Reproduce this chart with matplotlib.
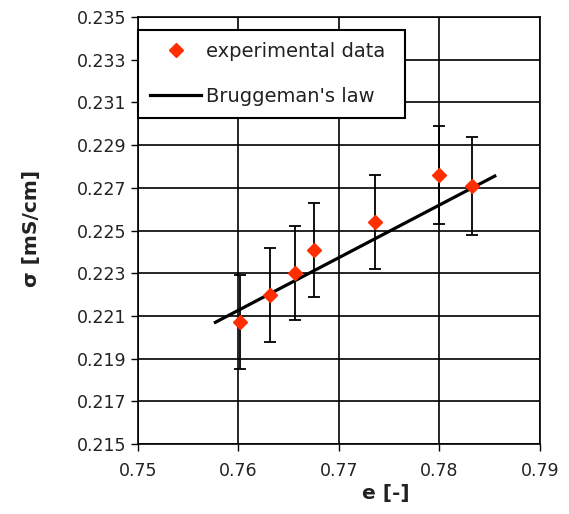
import matplotlib
matplotlib.use("Agg")
import matplotlib.pyplot as plt
from matplotlib.lines import Line2D

# Data
porosity = [0.7601, 0.7631, 0.7656, 0.7675, 0.7736, 0.7800, 0.7832]
sigma = [0.2207, 0.2220, 0.2230, 0.2241, 0.2254, 0.2276, 0.2271]
sigma_err = [0.0022, 0.0022, 0.0022, 0.0022, 0.0022, 0.0023, 0.0023]
brug_x = [0.7577, 0.7855]
brug_y = [0.2207, 0.22755]
xticks = [0.75, 0.76, 0.77, 0.78, 0.79]
yticks = [0.215, 0.217, 0.219, 0.221, 0.223, 0.225, 0.227, 0.229, 0.231, 0.233, 0.235]

text_color = '#222222'

fig = plt.figure(figsize=(5.69, 5.14), dpi=100)
ax = fig.add_axes([138/569, 70/514, 402/569, 427/514])

ax.set_xlim(0.75, 0.79)
ax.set_ylim(0.215, 0.235)
ax.set_xticks(xticks)
ax.set_yticks(yticks)
ax.set_xticklabels([f"{v:.2f}" for v in xticks])
ax.set_yticklabels([f"{v:.3f}" for v in yticks])
ax.tick_params(axis='both', direction='out', length=5, width=1, labelsize=12.5,
               color='black', labelcolor=text_color)
ax.tick_params(axis='x', pad=8)
ax.grid(True, color='black', linewidth=1.2)
ax.set_axisbelow(True)
for s in ax.spines.values():
    s.set_linewidth(1.2)
    s.set_color('black')

ax.plot(brug_x, brug_y, color='black', linewidth=2.3, zorder=3)
ax.errorbar(porosity, sigma, yerr=sigma_err, fmt='D', color='#FF2E00', markersize=7,
            ecolor='black', elinewidth=1.3, capsize=4.3, capthick=1.3, zorder=4,
            markeredgecolor='#FF2E00')

fig.text(31/569, 1 - 228/514, "σ [mS/cm]", rotation=90, fontsize=14.5, fontweight='bold',
         ha='center', va='center', color=text_color)
fig.text(386/569, 1 - 494/514, "e [-]", fontsize=14.5, fontweight='bold',
         ha='center', va='center', color=text_color)

handles = [Line2D([], [], linestyle='none', marker='D', color='#FF2E00', markersize=7),
           Line2D([], [], color='black', linewidth=2.3)]
labels = ["experimental data", "Bruggeman's law"]
y0 = (444 - 119) / 427
y1 = (444 - 30) / 427
leg = ax.legend(handles, labels, loc='upper left',
                bbox_to_anchor=(0, y0, 267/402, y1 - y0), mode='expand',
                borderaxespad=0, fontsize=14, labelspacing=1.3, borderpad=0.63,
                handlelength=2.6, handletextpad=0.28, fancybox=False, framealpha=1,
                edgecolor='black')
leg.get_frame().set_linewidth(1.5)
for t in leg.get_texts():
    t.set_color(text_color)

fig.savefig("out.png", dpi=100)
